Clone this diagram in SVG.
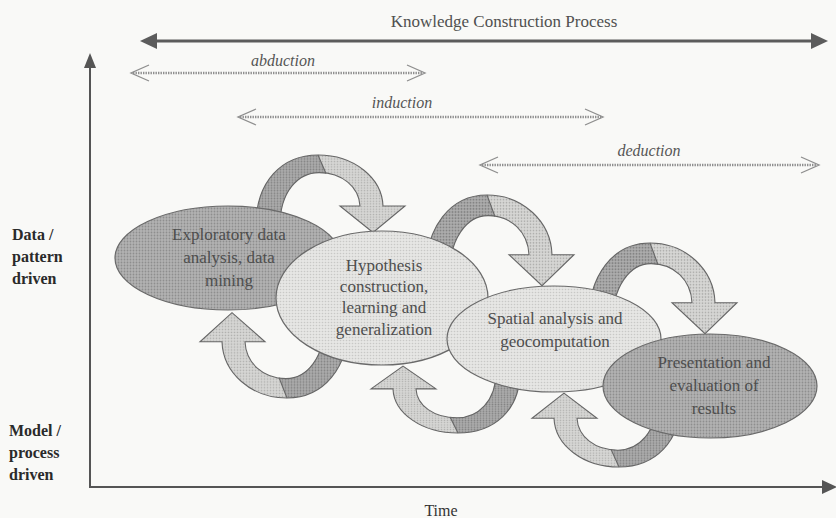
<svg xmlns="http://www.w3.org/2000/svg" xmlns:xlink="http://www.w3.org/1999/xlink" width="836" height="518" viewBox="0 0 836 518">
  <style>
    text { font-family: "Liberation Serif", "Times New Roman", serif; }
    .node-text { font-size: 17px; fill: #4e4e4e; text-anchor: middle; }
    .axis-label { font-size: 16px; font-weight: bold; fill: #2a2a2a; }
    .span-label { font-size: 16px; font-style: italic; fill: #555; text-anchor: middle; }
    .title { font-size: 17px; fill: #505050; text-anchor: middle; }
    .outline { fill: none; stroke: #666; stroke-width: 1.1; vector-effect: non-scaling-stroke; }
    .ell { stroke: #6a6a6a; stroke-width: 1.2; }
    .dotline { stroke: #8e8e8e; stroke-width: 2.4; stroke-dasharray: 1.4 1.1; fill: none; }
    .chev { stroke: #8e8e8e; stroke-width: 1.3; fill: none; }
    .axis { stroke: #555; stroke-width: 2; fill: none; }
  </style>
  <defs>
    <pattern id="pDark" width="3" height="3" patternUnits="userSpaceOnUse">
      <rect width="3" height="3" fill="#b2b2b2"/>
      <circle cx="1.5" cy="1.5" r="0.9" fill="#8e8e8e"/>
    </pattern>
    <pattern id="pLight" width="3" height="3" patternUnits="userSpaceOnUse">
      <rect width="3" height="3" fill="#e6e6e4"/>
      <circle cx="1.5" cy="1.5" r="0.8" fill="#c8c8c6"/>
    </pattern>
    <pattern id="pArrowL" width="3" height="3" patternUnits="userSpaceOnUse">
      <rect width="3" height="3" fill="#d6d6d4"/>
      <circle cx="1.5" cy="1.5" r="0.85" fill="#b0b0ae"/>
    </pattern>
    <pattern id="pArrowD" width="3" height="3" patternUnits="userSpaceOnUse">
      <rect width="3" height="3" fill="#acacac"/>
      <circle cx="1.5" cy="1.5" r="0.95" fill="#848484"/>
    </pattern>
    <g id="curl">
      <path fill="url(#pArrowL)" d="M -62,80 C -62,30 -36,0 0,0 C 36,0 64,26 65,58 L 87,58 L 55,88 L 22,58 L 42,58 C 41,36 24,20 1,20 C -20,20 -38,42 -38,80 Z"/>
      <path fill="url(#pArrowD)" d="M -62,80 C -62,30 -36,0 0,0 L 8,21 L 1,20 C -20,20 -38,42 -38,80 Z"/>
      <path class="outline" d="M -62,80 C -62,30 -36,0 0,0 C 36,0 64,26 65,58 L 87,58 L 55,88 L 22,58 L 42,58 C 41,36 24,20 1,20 C -20,20 -38,42 -38,80 Z"/>
      <path class="outline" d="M 0,0 L 8,21"/>
    </g>
  </defs>

  <rect width="836" height="518" fill="#f9f9f7"/>

  <g id="title">
    <text class="title" x="504" y="27">Knowledge Construction Process</text>
    <line x1="152" y1="41" x2="815" y2="41" stroke="#5c5c5c" stroke-width="3"/>
    <polygon points="140,41 157,33 157,49" fill="#5c5c5c"/>
    <polygon points="828,41 811,33 811,49" fill="#5c5c5c"/>
  </g>

  <g id="spans">
    <text class="span-label" x="283" y="66">abduction</text>
    <line class="dotline" x1="133" y1="73" x2="423" y2="73"/>
    <polyline class="chev" points="149,65 131,73 149,81"/>
    <polyline class="chev" points="407,65 425,73 407,81"/>

    <text class="span-label" x="402" y="108">induction</text>
    <line class="dotline" x1="240" y1="117" x2="601" y2="117"/>
    <polyline class="chev" points="256,109 238,117 256,125"/>
    <polyline class="chev" points="585,109 603,117 585,125"/>

    <text class="span-label" x="649" y="156">deduction</text>
    <line class="dotline" x1="482" y1="165" x2="817" y2="165"/>
    <polyline class="chev" points="498,157 480,165 498,173"/>
    <polyline class="chev" points="801,157 819,165 801,173"/>
  </g>

  <g id="axes">
    <line class="axis" x1="90" y1="64" x2="90" y2="488"/>
    <polygon points="90,53 84,68 96,68" fill="#555"/>
    <line class="axis" x1="89" y1="487" x2="824" y2="487"/>
    <polygon points="837,487 822,480 822,494" fill="#555"/>
    <text class="axis-label" x="12" y="240">Data /</text>
    <text class="axis-label" x="12" y="262">pattern</text>
    <text class="axis-label" x="12" y="284">driven</text>
    <text class="axis-label" x="9" y="436">Model /</text>
    <text class="axis-label" x="9" y="458">process</text>
    <text class="axis-label" x="9" y="480">driven</text>
    <text x="441" y="516" font-size="16" fill="#333" text-anchor="middle">Time</text>
  </g>

  <g id="connectors">
    <use xlink:href="#curl" href="#curl" transform="translate(318,155) scale(1,0.88)"/>
    <use xlink:href="#curl" href="#curl" transform="translate(487,195) scale(1,1.03)"/>
    <use xlink:href="#curl" href="#curl" transform="translate(650,243) scale(1,1.03)"/>
    <use xlink:href="#curl" href="#curl" transform="translate(287,398) rotate(180) scale(1,0.97)"/>
    <use xlink:href="#curl" href="#curl" transform="translate(458,433) rotate(180) scale(1,0.76)"/>
    <use xlink:href="#curl" href="#curl" transform="translate(619,467) rotate(180) scale(1,0.84)"/>
  </g>

  <g id="node-exploratory">
    <ellipse class="ell" cx="228" cy="258" rx="113" ry="52" fill="url(#pDark)"/>
    <text class="node-text" x="229" y="240">Exploratory data</text>
    <text class="node-text" x="229" y="263">analysis, data</text>
    <text class="node-text" x="229" y="286">mining</text>
  </g>

  <g id="node-hypothesis">
    <ellipse class="ell" cx="382" cy="298" rx="106" ry="67" fill="url(#pLight)"/>
    <text class="node-text" x="384" y="271">Hypothesis</text>
    <text class="node-text" x="384" y="292">construction,</text>
    <text class="node-text" x="384" y="313">learning and</text>
    <text class="node-text" x="384" y="335">generalization</text>
  </g>

  <g id="node-spatial">
    <ellipse class="ell" cx="554" cy="339" rx="107" ry="53" fill="url(#pLight)"/>
    <text class="node-text" x="555" y="324">Spatial analysis and</text>
    <text class="node-text" x="555" y="347">geocomputation</text>
  </g>

  <g id="node-presentation">
    <ellipse class="ell" cx="710" cy="386" rx="107" ry="52" fill="url(#pDark)"/>
    <text class="node-text" x="714" y="368">Presentation and</text>
    <text class="node-text" x="714" y="391">evaluation of</text>
    <text class="node-text" x="714" y="414">results</text>
  </g>
</svg>
